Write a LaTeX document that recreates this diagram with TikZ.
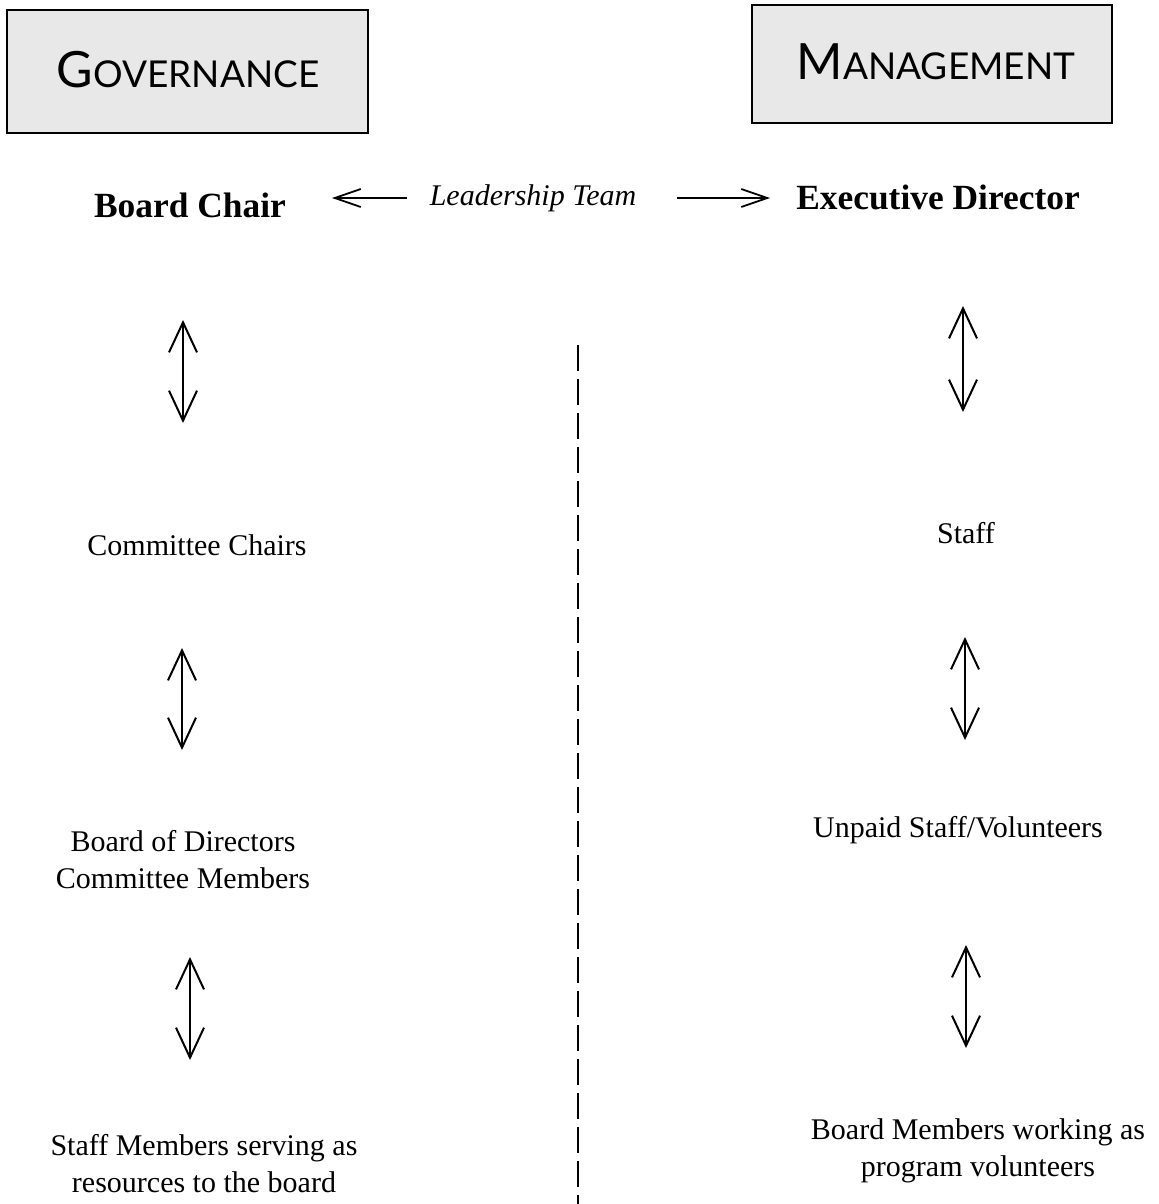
\documentclass[tikz,border=0pt]{standalone}
\usepackage{fontspec}
\setmainfont{Liberation Serif}
\newfontfamily\headfont{Lato}
\usetikzlibrary{arrows.meta}

\tikzset{
  vlink/.style={line width=1pt, {Straight Barb[length=15pt,width=14pt]}-{Straight Barb[length=15pt,width=14pt]}},
  hlink/.style={line width=0.9pt, -{Straight Barb[length=13pt,width=9pt]}},
  headbox/.style={draw, line width=0.8pt, fill=gray!18},
  item/.style={font=\fontsize{15}{18.5}\selectfont, align=center},
  boss/.style={font=\fontsize{17.7}{21}\selectfont\bfseries},
}

\begin{document}
\begin{tikzpicture}[x=0.5pt, y=-0.5pt]
            \useasboundingbox (0,0) rectangle (1159,1204);

            \draw[headbox] (7,10) rectangle (368,133);
            \draw[headbox] (752,5) rectangle (1112,123);
            \node (gov) at (188,70) {\headfont\fontsize{25}{25}\selectfont G\fontsize{18.5}{18.5}\selectfont OVERNANCE};
            \node (man) at (936,62) {\headfont\fontsize{25}{25}\selectfont M\fontsize{18.5}{18.5}\selectfont ANAGEMENT};

            \node[boss] (chair) at (190,205) {Board Chair};
            \node[item, font=\fontsize{15}{18.5}\selectfont\itshape] (team) at (533,198) {Leadership Team};
            \node[boss] (exec) at (938,197) {Executive Director};
            \coordinate (tl) at (332,198);
            \coordinate (tr) at (770,198);
            \draw[hlink] (team.west) ++(-16,0) -- (tl);
            \draw[hlink] (team.east) ++(34,0) -- (tr);

            \node[item] (cchairs) at (197,545) {Committee Chairs};
            \node[item] (board) at (183,860) {Board of Directors\\Committee Members};
            \node[item] (sres) at (204,1164) {Staff Members serving as\\resources to the board};

            \node[item] (staff) at (966,533) {Staff};
            \node[item] (unpaid) at (958,830) {Unpaid Staff/Volunteers};
            \node[item] (bvol) at (978,1151) {Board Members working as\\program volunteers};

            % links down the left side
            \coordinate (l1a) at (183,320); \coordinate (l1b) at (183,423);
            \coordinate (l2a) at (182,648); \coordinate (l2b) at (182,750);
            \coordinate (l3a) at (190,957); \coordinate (l3b) at (190,1060);
            \draw[vlink] (l1a) -- (l1b);
            \draw[vlink] (l2a) -- (l2b);
            \draw[vlink] (l3a) -- (l3b);

            % links down the right side
            \coordinate (r1a) at (963,306); \coordinate (r1b) at (963,412);
            \coordinate (r2a) at (965,637); \coordinate (r2b) at (965,740);
            \coordinate (r3a) at (966,945); \coordinate (r3b) at (966,1048);
            \draw[vlink] (r1a) -- (r1b);
            \draw[vlink] (r2a) -- (r2b);
            \draw[vlink] (r3a) -- (r3b);

            \coordinate (mtop) at (578,345);
            \coordinate (mbot) at (578,1204);
            \draw[line width=1.3pt, dash pattern=on 13pt off 4pt] (mtop) -- (mbot);
        \end{tikzpicture}
\end{document}
